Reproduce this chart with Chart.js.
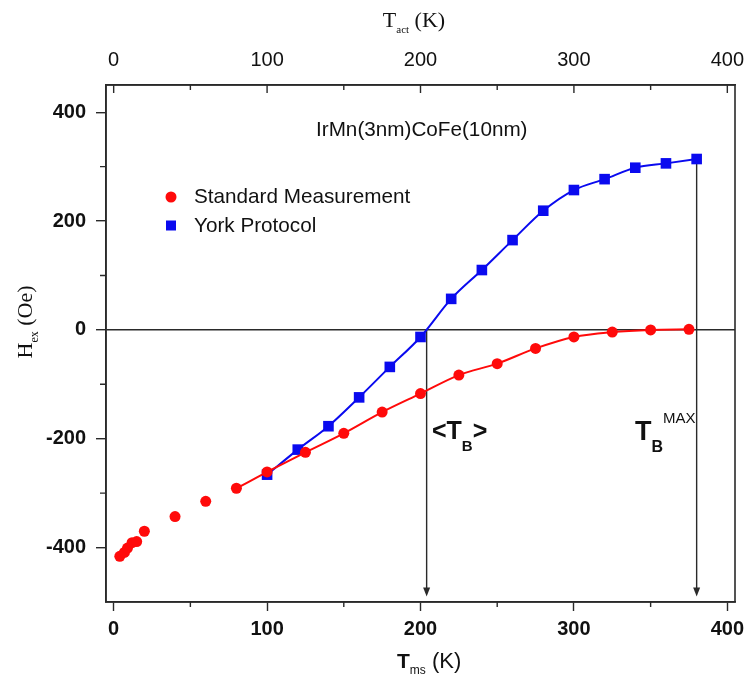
<!DOCTYPE html>
<html>
<head>
<meta charset="utf-8">
<script src="https://cdn.jsdelivr.net/npm/chart.js@4"></script>
<style>
  html, body { margin: 0; padding: 0; background: #fff; }
  canvas { display: block; }
</style>
</head>
<body>
<canvas id="c" width="751" height="679"></canvas>
<script>
// Exchange bias field H_ex versus measurement temperature, IrMn(3nm)CoFe(10nm)
const standardT = [4, 7, 9, 12, 15, 20, 40, 60, 80, 100, 125, 150, 175, 200, 225, 250, 275, 300, 325, 350, 375];
const standardH = [-416, -409, -401, -391, -389, -370, -343, -315, -291, -261, -225, -190, -151, -117, -83, -62, -34, -13, -4, 0, 1];
const yorkT = [100, 120, 140, 160, 180, 200, 220, 240, 260, 280, 300, 320, 340, 360, 380];
const yorkH = [-266, -220, -177, -124, -68, -13, 57, 110, 165, 219, 257, 277, 298, 306, 314];

const fitStartT = 80;      // the fitted curve of the standard data begins here
const tbMean = 204;        // <T_B>
const tbMax = 380;         // T_B^MAX
const arrowEndH = -490;

const xMajor = [0, 100, 200, 300, 400];
const xMinor = [50, 150, 250, 350];
const yMajor = [-400, -200, 0, 200, 400];
const yMinor = [-300, -100, 100, 300];

const RED = '#ff0a0a';
const BLUE = '#0a0aef';
const INK = '#2a2a2a';
const SANS = '"Liberation Sans", Arial, sans-serif';
const SERIF = '"Liberation Serif", "Times New Roman", serif';

function rich(ctx, parts, x, y, align) {
  let w = 0;
  parts.forEach(p => { ctx.font = p[1]; w += ctx.measureText(p[0]).width; });
  let cx = align === 'center' ? x - w / 2 : x;
  ctx.textAlign = 'left';
  ctx.textBaseline = 'alphabetic';
  parts.forEach(p => {
    ctx.font = p[1];
    ctx.fillText(p[0], cx, y + (p[2] || 0));
    cx += ctx.measureText(p[0]).width;
  });
}

function arrowDown(ctx, x, y0, y1) {
  ctx.beginPath();
  ctx.moveTo(x, y0);
  ctx.lineTo(x, y1 - 6);
  ctx.stroke();
  ctx.beginPath();
  ctx.moveTo(x - 3.5, y1 - 9);
  ctx.lineTo(x + 3.5, y1 - 9);
  ctx.lineTo(x, y1);
  ctx.closePath();
  ctx.fill();
}

// keep the plot frame fixed; tick labels may overhang the canvas margins
const fixX = h => s => { s.height = h; s.paddingLeft = 0; s.paddingRight = 0; };

const decor = {
  id: 'decor',
  beforeDatasetsDraw(chart) {
    const ctx = chart.ctx, xs = chart.scales.x, ys = chart.scales.y;
    ctx.save();
    ctx.strokeStyle = INK;
    ctx.fillStyle = INK;
    ctx.lineWidth = 1.4;
    arrowDown(ctx, xs.getPixelForValue(tbMean), ys.getPixelForValue(0), ys.getPixelForValue(arrowEndH));
    arrowDown(ctx, xs.getPixelForValue(tbMax), ys.getPixelForValue(yorkH[yorkH.length - 1]), ys.getPixelForValue(arrowEndH));
    ctx.restore();
  },
  afterDraw(chart) {
    const ctx = chart.ctx, a = chart.chartArea;
    const xs = chart.scales.x, ys = chart.scales.y;
    ctx.save();
    ctx.strokeStyle = INK;
    ctx.lineWidth = 1.6;
    ctx.strokeRect(a.left, a.top, a.right - a.left, a.bottom - a.top);

    // minor ticks on left and bottom (outward), ticks on top (inward)
    ctx.lineWidth = 1.4;
    ctx.beginPath();
    yMinor.forEach(v => { const y = ys.getPixelForValue(v); ctx.moveTo(a.left - 6, y); ctx.lineTo(a.left, y); });
    xMinor.forEach(v => { const x = xs.getPixelForValue(v); ctx.moveTo(x, a.bottom); ctx.lineTo(x, a.bottom + 5); });
    xMajor.forEach(v => { const x = xs.getPixelForValue(v); ctx.moveTo(x, a.top); ctx.lineTo(x, a.top + 8); });
    xMinor.forEach(v => { const x = xs.getPixelForValue(v); ctx.moveTo(x, a.top); ctx.lineTo(x, a.top + 5); });
    ctx.stroke();

    ctx.fillStyle = '#111';
    // axis titles
    rich(ctx, [['T', '22px ' + SERIF], ['act', '11px ' + SERIF, 6], [' (K)', '22px ' + SERIF]], 414, 27, 'center');
    rich(ctx, [['T', 'bold 21px ' + SANS], ['ms', '12px ' + SANS, 6], [' (K)', '22px ' + SANS]], 397, 668, 'left');
    ctx.save();
    ctx.translate(32, 322);
    ctx.rotate(-Math.PI / 2);
    rich(ctx, [['H', '22px ' + SERIF], ['ex', '12px ' + SERIF, 6], [' (Oe)', '22px ' + SERIF]], 0, 0, 'center');
    ctx.restore();

    // sample label
    ctx.font = '20.7px ' + SANS;
    ctx.textAlign = 'left';
    ctx.textBaseline = 'middle';
    ctx.fillText('IrMn(3nm)CoFe(10nm)', 316, 130);

    // legend
    ctx.fillText('Standard Measurement', 194, 197);
    ctx.fillText('York Protocol', 194, 226);
    ctx.fillStyle = RED;
    ctx.beginPath();
    ctx.arc(171, 197, 5.5, 0, Math.PI * 2);
    ctx.fill();
    ctx.fillStyle = BLUE;
    ctx.fillRect(166, 220.5, 10, 10);

    // blocking temperature labels
    ctx.fillStyle = '#111';
    rich(ctx, [['<T', 'bold 25px ' + SANS], ['B', 'bold 15px ' + SANS, 12], ['>', 'bold 25px ' + SANS]], 432, 439, 'left');
    rich(ctx, [['T', 'bold 27px ' + SANS], ['B', 'bold 16px ' + SANS, 12], ['MAX', '15px ' + SANS, -17]], 635, 440, 'left');
    ctx.restore();
  }
};

const fitColor = c => (c.p0.parsed.x < fitStartT ? 'rgba(0,0,0,0)' : RED);

new Chart(document.getElementById('c'), {
  type: 'scatter',
  data: {
    datasets: [
      {
        label: 'Standard Measurement',
        data: standardT.map((t, i) => ({ x: t, y: standardH[i] })),
        showLine: true,
        borderColor: RED,
        backgroundColor: RED,
        borderWidth: 2,
        pointStyle: 'circle',
        pointRadius: 5.5,
        pointBorderWidth: 0,
        cubicInterpolationMode: 'monotone',
        segment: { borderColor: fitColor }
      },
      {
        label: 'York Protocol',
        data: yorkT.map((t, i) => ({ x: t, y: yorkH[i] })),
        showLine: true,
        borderColor: BLUE,
        backgroundColor: BLUE,
        borderWidth: 2,
        pointStyle: 'rect',
        pointRadius: 7.5,
        pointBorderWidth: 0,
        cubicInterpolationMode: 'monotone'
      }
    ]
  },
  options: {
    responsive: false,
    animation: false,
    devicePixelRatio: 1,
    layout: { padding: { left: 0, right: 16, top: 0, bottom: 0 } },
    plugins: { legend: { display: false }, tooltip: { enabled: false } },
    scales: {
      x: {
        type: 'linear', position: 'bottom', min: -5, max: 405,
        afterBuildTicks: s => { s.ticks = xMajor.map(v => ({ value: v })); },
        afterFit: fixX(77),
        ticks: { font: { family: SANS, size: 20, weight: 'bold' }, color: '#111', padding: 6, maxRotation: 0 },
        grid: { drawOnChartArea: false, drawTicks: true, tickLength: 9, tickColor: INK, tickWidth: 1.4 },
        border: { display: true, color: INK, width: 1.6 }
      },
      x2: {
        type: 'linear', position: 'top', min: -5, max: 405,
        afterBuildTicks: s => { s.ticks = xMajor.map(v => ({ value: v })); },
        afterFit: fixX(85),
        ticks: { font: { family: SANS, size: 20 }, color: '#111', padding: 13, maxRotation: 0 },
        grid: { drawOnChartArea: false, drawTicks: false },
        border: { display: true, color: INK, width: 1.6 }
      },
      y: {
        type: 'linear', position: 'left', min: -500, max: 450,
        afterBuildTicks: s => { s.ticks = yMajor.map(v => ({ value: v })); },
        afterFit: s => { s.width = 106; s.paddingTop = 0; s.paddingBottom = 0; },
        ticks: { font: { family: SANS, size: 20, weight: 'bold' }, color: '#111', padding: 10 },
        grid: {
          drawOnChartArea: true, drawTicks: true, tickLength: 10, tickColor: INK, tickWidth: 1.4,
          color: c => (c.tick && c.tick.value === 0 ? INK : 'rgba(0,0,0,0)'), lineWidth: 1.4
        },
        border: { display: true, color: INK, width: 1.6 }
      }
    }
  },
  plugins: [decor]
});
</script>
</body>
</html>
